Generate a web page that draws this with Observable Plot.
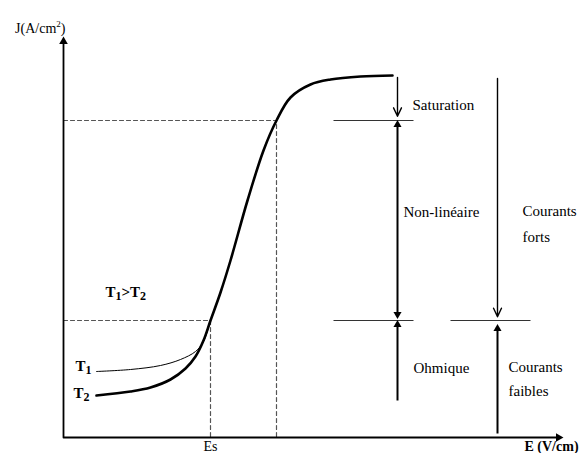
<!DOCTYPE html>
<html><head><meta charset="utf-8">
<script src="https://cdn.jsdelivr.net/npm/d3@7"></script>
<script src="https://cdn.jsdelivr.net/npm/@observablehq/plot@0.6"></script>
<style>body{margin:0;background:#fff} svg text, svg tspan{font-family:"Liberation Serif","Times New Roman",Times,"DejaVu Serif",serif !important}</style>
</head><body><div id="chart"></div>
<script>
// Schematic J(E) curve, in arbitrary units (E: 0-100, J: 0-100)
const curveT2 = [[6.6,10.5],[13.4,11.5],[17.4,12.5],[21.4,14.5],[24.4,17.25],[26.4,20.25],[28,24.25],[29.4,29.25],[31.4,36.25],[33.4,44.25],[36.8,59.25],[40,71.75],[42.6,79.25],[45.4,85],[49.4,88.25],[53.4,89.5],[59.4,90.25],[65.8,90.5]];
const curveT1 = [[6.6,16.5],[13.4,17],[19.4,18],[23.4,19.5],[26.4,21.5],[28,24],[29.4,29.25]];
const Es = 29.4, Jlow = 29.25;       // ohmic / non-linear limit
const Esat = 42.6, Jsat = 79.25;     // non-linear / saturation limit
const regionX = 66.8, currentX = 86.8;
const limitSegments = [
  {x1:54, x2:70, y:Jsat},
  {x1:54, x2:70, y:Jlow},
  {x1:77.4, x2:93.4, y:Jlow}
];
const openArrows = [
  {x:regionX, y1:90, y2:80.3},
  {x:currentX, y1:89.75, y2:30.2}
];
const shafts = [
  {x:regionX, y1:30.4, y2:78.6},
  {x:regionX, y1:9.25, y2:28.6},
  {x:currentX, y1:1, y2:27.6}
];
const filledHeads = [
  {x:regionX, y:78.2, dir:"up"},
  {x:regionX, y:30.8, dir:"down"},
  {x:regionX, y:28.2, dir:"up"},
  {x:currentX, y:27.2, dir:"up"}
];
const axisHeads = [
  {x:0, y:99, dir:"up"},
  {x:99, y:0, dir:"right"}
];
const labelsStart = [
  {x:69.8, y:83, text:"Saturation"},
  {x:68, y:56.3, text:"Non-linéaire"},
  {x:91.8, y:56.5, text:"Courants"},
  {x:91.8, y:50, text:"forts"},
  {x:70, y:17.3, text:"Ohmique"},
  {x:89, y:17.5, text:"Courants"},
  {x:89, y:11.5, text:"faibles"}
];
const labelsBold = [
  {x:8.4, y:36.3, text:"T_1>T_2"},
  {x:2.4, y:17.8, text:"T_1"},
  {x:2.0, y:11.2, text:"T_2"}
];
const yLabel = {x:0.4, y:102.3, text:"J(A/cm^2)"};
const xLabel = {x:92.2, y:-2.2, text:"E (V/cm)"};
const esLabel = {x:Es, y:-2.3, text:"Es"};
const rot = {up:0, down:180, right:90};

const chart = Plot.plot({
  width: 584, height: 453,
  marginLeft: 63, marginRight: 21, marginTop: 37, marginBottom: 16,
  x: {domain:[0,100], axis:null},
  y: {domain:[0,100], axis:null},
  style: {background:"#fff"},
  marks: [
    Plot.line([[0,Jlow],[Es,Jlow],[Es,0]], {stroke:"#555", strokeWidth:1.2, strokeDasharray:"4,3"}),
    Plot.line([[0,Jsat],[Esat,Jsat],[Esat,0]], {stroke:"#555", strokeWidth:1.2, strokeDasharray:"4,3"}),
    Plot.line([[0,99],[0,0],[99.4,0]], {stroke:"#000", strokeWidth:1.8}),
    Plot.dot(axisHeads, {x:"x", y:"y", symbol:"triangle", r:3.2, fill:"#000", stroke:"none", rotate:d=>rot[d.dir]}),
    Plot.line(curveT1, {stroke:"#000", strokeWidth:1, curve:"catmull-rom"}),
    Plot.line(curveT2, {stroke:"#000", strokeWidth:2.6, curve:"catmull-rom"}),
    Plot.link(limitSegments, {x1:"x1", x2:"x2", y1:"y", y2:"y", stroke:"#333", strokeWidth:1}),
    Plot.arrow(openArrows, {x1:"x", x2:"x", y1:"y1", y2:"y2", stroke:"#000", strokeWidth:1.4, headLength:10, headAngle:50, bend:0}),
    Plot.link(shafts, {x1:"x", x2:"x", y1:"y1", y2:"y2", stroke:"#000", strokeWidth:2}),
    Plot.dot(filledHeads, {x:"x", y:"y", symbol:"triangle", r:3, fill:"#000", stroke:"none", rotate:d=>rot[d.dir]}),
    Plot.text(labelsStart, {x:"x", y:"y", text:"text", textAnchor:"start", fontSize:15, fill:"#000"}),
    Plot.text(labelsBold, {x:"x", y:"y", text:"text", textAnchor:"start", fontWeight:"bold", fontSize:15, fill:"#000"}),
    Plot.text([yLabel], {x:"x", y:"y", text:"text", textAnchor:"end", fontSize:14, fill:"#000"}),
    Plot.text([xLabel], {x:"x", y:"y", text:"text", textAnchor:"start", fontWeight:"bold", fontSize:14, fill:"#000"}),
    Plot.text([esLabel], {x:"x", y:"y", text:"text", textAnchor:"middle", fontSize:14, fill:"#000"})
  ]
});
// turn _n / ^n markers into sub/superscript tspans
d3.select(chart).selectAll("text").each(function(){
  const el = d3.select(this);
  const t = this.textContent;
  if (!/[_^]/.test(t)) return;
  el.text(null);
  const parts = t.split(/([_^]\d)/).filter(s=>s.length);
  let shift = 0;
  for (const p of parts) {
    if (p[0]==="_" || p[0]==="^") {
      const dy = p[0]==="_" ? 3 : -6;
      el.append("tspan").attr("dy", dy - shift).attr("font-size", p[0]==="_" ? "0.8em" : "0.65em").text(p[1]);
      shift = dy;
    } else {
      const ts = el.append("tspan").attr("dy", -shift).text(p);
      if (p === ">") ts.attr("font-weight", "normal");
      shift = 0;
    }
  }
});
document.getElementById("chart").appendChild(chart);
</script></body></html>
